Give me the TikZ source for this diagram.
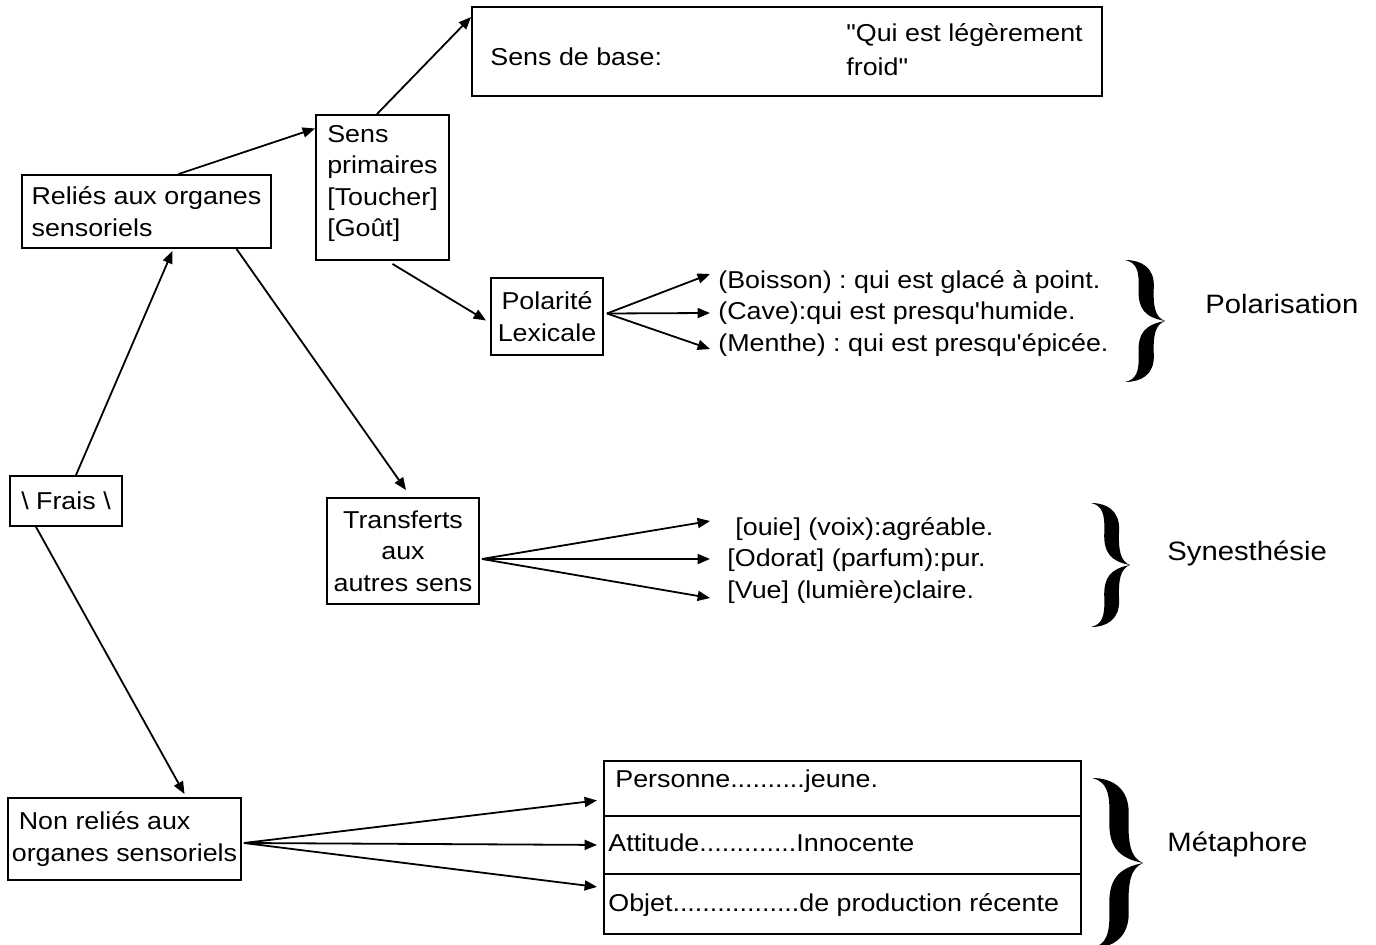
\documentclass[tikz,border=0pt]{standalone}
\usepackage{fontspec}
% plain family: keeps straight quotes and apostrophes
\newfontfamily\diagfont{Liberation Sans}[FakeStretch=1.1]
\usetikzlibrary{arrows.meta,calc}

\newcommand\mainsize{\diagfont\fontsize{12.2}{15.7}\selectfont\frenchspacing}
\newcommand\labelsize{\diagfont\fontsize{13.3}{16}\selectfont}

% filled curly brace: left x, top y, width, height (picture units)
\newcommand\drawbrace[4]{%
  \begin{scope}[shift={(#1,#2)}, xscale=#3, yscale=#4]
    \fill (0,0) .. controls (0.4,0.0) and (0.74,0.06) .. (0.72,0.22)
      .. controls (0.7,0.38) and (0.75,0.47) .. (1,0.5)
      .. controls (0.75,0.53) and (0.7,0.62) .. (0.72,0.78)
      .. controls (0.74,0.94) and (0.4,1.0) .. (0,1)
      .. controls (0.28,0.98) and (0.36,0.92) .. (0.34,0.76)
      .. controls (0.32,0.6) and (0.5,0.53) .. (1,0.5)
      .. controls (0.5,0.47) and (0.32,0.4) .. (0.34,0.24)
      .. controls (0.36,0.08) and (0.28,0.02) .. (0,0) -- cycle;
  \end{scope}}

\begin{document}
\begin{tikzpicture}[x=0.5pt, y=-0.5pt,
  box/.style={draw, line width=0.95pt, inner sep=0pt, font=\mainsize},
  txt/.style={inner sep=0pt, font=\mainsize},
  lbl/.style={inner sep=0pt, font=\labelsize},
  link/.style={line width=0.9pt, -{Triangle[length=6.2pt,width=5pt]}}]

\path[fill=white, use as bounding box] (0,0) rectangle (1376,945);

% boxes
\node[box, minimum width=315pt, minimum height=44.5pt] (base) at (787,51.5) {};
\node[txt, anchor=west] (basel) at (490,57) {Sens de base:};
\node[txt, anchor=west, align=left, font={\mainsize\fontsize{12.2}{17}\selectfont}] (baser) at (846,50)
  {"Qui est légèrement\\froid"};

\node[box, minimum width=66.5pt, minimum height=72.5pt, align=left] (prim) at (382.5,187.5)
  {Sens\\primaires\\{}[Toucher]\\{}[Goût]\\[-9pt]\mbox{}};
\node[box, minimum width=124.5pt, minimum height=36.5pt, align=left] (reli) at (146.5,211.5)
  {Reliés aux organes\\sensoriels};
\node[box, minimum width=56pt, minimum height=38.5pt, align=center] (pola) at (547,316.5)
  {Polarité\\Lexicale};
\node[box, minimum width=56pt, minimum height=25pt] (frais) at (66,501)
  {\textbackslash{} Frais \textbackslash};
\node[box, minimum width=76pt, minimum height=53pt, align=center] (trans) at (403,551)
  {Transferts\\aux\\autres sens};
\node[box, minimum width=116.5pt, minimum height=41pt, align=left] (nonr) at (124.5,839)
  {\hspace{3.5pt}Non reliés aux\\organes sensoriels};

\node[box, minimum width=238.5pt, minimum height=27.5pt, anchor=north west] (m1) at (603,760) {};
\node[box, minimum width=238.5pt, minimum height=29pt, anchor=north west] (m2) at (603,815) {};
\node[box, minimum width=238.5pt, minimum height=30pt, anchor=north west] (m3) at (603,873) {};
\node[txt, anchor=west] (m1t) at (615,781) {Personne..........jeune.};
\node[txt, anchor=west] (m2t) at (608,843) {Attitude.............Innocente};
\node[txt, anchor=west] (m3t) at (608,905) {Objet.................de production récente};

% lists
\node[txt, anchor=west] (p1) at (718,282) {(Boisson) : qui est glacé à point.};
\node[txt, anchor=west] (p2) at (718,313) {(Cave):qui est presqu'humide.};
\node[txt, anchor=west] (p3) at (718,345) {(Menthe) : qui est presqu'épicée.};

\node[txt, anchor=west] (s1) at (735,529) {[ouie] (voix):agréable.};
\node[txt, anchor=west] (s2) at (727,560) {[Odorat] (parfum):pur.};
\node[txt, anchor=west] (s3) at (727,592) {[Vue] (lumière)claire.};

% group labels
\node[lbl, anchor=west] (lpol) at (1205,304) {Polarisation};
\node[lbl, anchor=west] (lsyn) at (1167,553) {Synesthésie};
\node[lbl, anchor=west] (lmet) at (1167,844) {Métaphore};

% braces
\drawbrace{1125}{260}{40}{122}
\drawbrace{1091}{503}{39}{124}
\drawbrace{1092}{778}{51}{170}

% connectors
\draw[link] ([xshift=5pt]frais.north) -- ([xshift=13pt,yshift=-1pt]reli.south);
\draw[link] ([xshift=-15pt]frais.south) -- ([xshift=30pt,yshift=1.5pt]nonr.north);
\draw[link] ([xshift=16pt]reli.north) -- ([yshift=29.5pt]prim.west);
\draw[link] ([xshift=-2.75pt]prim.north) -- ([yshift=-5.5pt]base.north west);
\draw[link] ([xshift=5pt,yshift=-1.5pt]prim.south) -- ([xshift=-2pt,yshift=-2pt]pola.west);
\draw[link] ([xshift=45pt]reli.south) -- ([xshift=1.5pt,yshift=3.5pt]trans.north);

\coordinate (po) at ([xshift=1.5pt,yshift=1.5pt]pola.east);
\draw[link] (po) -- ([xshift=-4pt,yshift=4pt]p1.west);
\draw[link] (po) -- ([xshift=-4pt]p2.west);
\draw[link] (po) -- ([xshift=-4pt,yshift=-2pt]p3.west);

\coordinate (to) at ([xshift=1pt,yshift=-4pt]trans.east);
\draw[link] (to) -- ([xshift=-12.5pt,yshift=4pt]s1.west);
\draw[link] (to) -- ([xshift=-8.5pt,yshift=0.5pt]s2.west);
\draw[link] (to) -- ([xshift=-8.5pt,yshift=-3pt]s3.west);

\coordinate (no) at ([xshift=1pt,yshift=-2pt]nonr.east);
\draw[link] (no) -- ([xshift=-3pt,yshift=-6pt]m1.west);
\draw[link] (no) -- ([xshift=-3pt]m2.west);
\draw[link] (no) -- ([xshift=-3pt,yshift=8.5pt]m3.west);
\end{tikzpicture}
\end{document}
